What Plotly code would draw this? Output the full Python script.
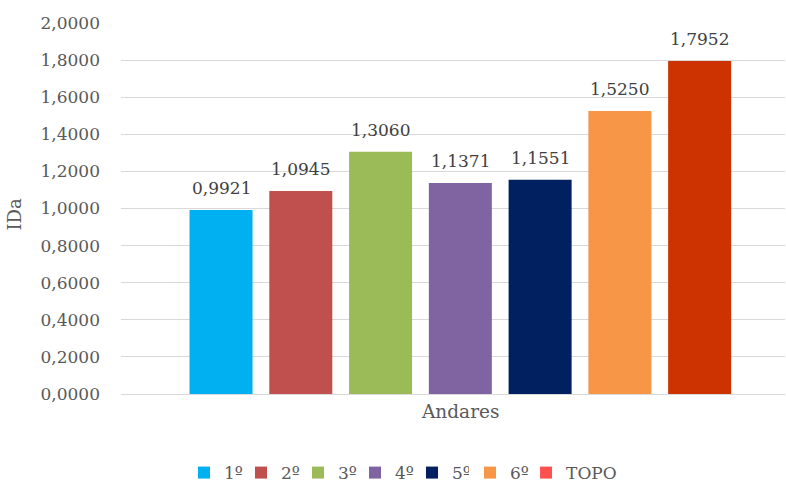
import plotly.graph_objects as go

categories = ["1º", "2º", "3º", "4º", "5º", "6º", "TOPO"]
values = [0.9921, 1.0945, 1.3060, 1.1371, 1.1551, 1.5250, 1.7952]
bar_colors = ["#00B0F0", "#C0504D", "#9BBB59", "#8064A2", "#002060", "#F79646", "#CC3300"]
legend_colors = ["#00B0F0", "#C0504D", "#9BBB59", "#8064A2", "#002060", "#F79646", "#FF5050"]
y_ticks = [0.0, 0.2, 0.4, 0.6, 0.8, 1.0, 1.2, 1.4, 1.6, 1.8, 2.0]

FONT = "DejaVu Serif"
GREY = "#595959"
LABEL = "#404040"

fig = go.Figure()
positions = list(range(len(categories)))
legend_ids = ["legend"] * 5 + ["legend2", "legend3"]

for i, (cat, val) in enumerate(zip(categories, values)):
    same = bar_colors[i] == legend_colors[i]
    leg = legend_ids[i]
    fig.add_trace(go.Bar(
        x=[positions[i]], y=[val], name=cat, width=0.79,
        marker=dict(color=bar_colors[i], line=dict(width=0)),
        showlegend=same, hoverinfo="skip", legend=leg,
    ))
    if not same:
        fig.add_trace(go.Bar(
            x=[positions[i]], y=[0], name=cat, width=0.79,
            marker=dict(color=legend_colors[i], line=dict(width=0)),
            showlegend=True, hoverinfo="skip", legend=leg,
        ))

annotations = []
for i, val in enumerate(values):
    annotations.append(dict(
        x=positions[i], y=val, xref="x", yref="y",
        text=f"{val:.4f}".replace(".", ","), showarrow=False,
        yanchor="bottom", yshift=10,
        font=dict(family=FONT, size=17, color=LABEL),
    ))
annotations.append(dict(
    x=3, y=0, xref="x", yref="y", text="Andares", showarrow=False,
    yanchor="middle", yshift=-17,
    font=dict(family=FONT, size=18.5, color=GREY),
))
annotations.append(dict(
    x=0, y=0.5, xref="paper", yref="paper", text="IDa", showarrow=False,
    xanchor="center", yanchor="middle", xshift=-107, yshift=-6, textangle=-90,
    font=dict(family=FONT, size=18, color=GREY),
))

legend_common = dict(
    orientation="h", y=-0.213, yanchor="middle", xanchor="left",
    font=dict(family=FONT, size=17, color=GREY),
    itemclick=False, itemdoubleclick=False, bgcolor="rgba(0,0,0,0)",
)

fig.update_layout(
    width=786, height=483,
    margin=dict(l=121, r=1, t=23, b=89, pad=0, autoexpand=False),
    paper_bgcolor="white", plot_bgcolor="white",
    barmode="overlay",
    separators=",.",
    font=dict(family=FONT, size=17, color=GREY),
    showlegend=True,
    legend=dict(x=0.0949, entrywidth=12, entrywidthmode="pixels", **legend_common),
    legend2=dict(x=0.5256, **legend_common),
    legend3=dict(x=0.610, **legend_common),
    annotations=annotations,
    xaxis=dict(
        range=[-1.254, 7.07], showticklabels=False, showgrid=False,
        zeroline=False, showline=False, ticks="", automargin=False,
    ),
    yaxis=dict(
        range=[0, 2.0], tickvals=y_ticks, tickformat=".4f",
        showgrid=True, gridcolor="#D9D9D9", gridwidth=1,
        zeroline=True, zerolinecolor="#D9D9D9", zerolinewidth=1,
        showline=False, ticks="", ticklabelstandoff=20, automargin=False,
        tickfont=dict(family=FONT, size=17, color=GREY),
    ),
)

fig.write_html("out.html")
